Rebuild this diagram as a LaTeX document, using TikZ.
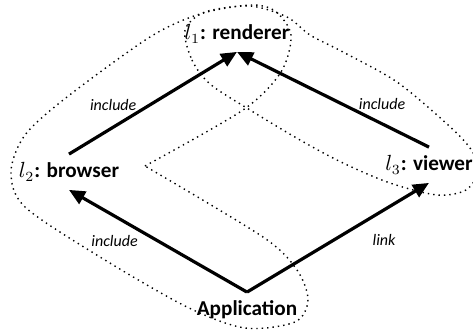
\documentclass[tikz,border=0pt]{standalone}
\usepackage{fontspec}
\setmainfont{Carlito}
\usetikzlibrary{arrows.meta}

\begin{document}
\begin{tikzpicture}[x=0.5pt,y=-0.5pt,
    comp/.style={font=\fontsize{10.6}{12}\selectfont\bfseries, inner sep=0pt, minimum height=17.5pt},
    rel/.style={line width=1.6pt, -{Triangle[length=8pt,width=7pt]}},
    rlabel/.style={font=\fontsize{8}{9}\selectfont\itshape},
    group/.style={dotted, line width=0.7pt}]
    \useasboundingbox (0,0) rectangle (473,332);

    \node[comp] (R) at (237,34) {$l_1$: renderer};
    \node[comp] (B) at (69,172) {$l_2$: browser};
    \node[comp] (V) at (429,165) {$l_3$: viewer};
    \node[comp] (A) at (247,310) {Application};

    \draw[rel] (B.north) -- node[rlabel, pos=0.48, left=2.5pt] {include} (R.south);
    \draw[rel] (V.north) -- node[rlabel, pos=0.45, right=4pt] {include} (R.south);
    \draw[rel] (A.north) -- node[rlabel, pos=0.5, left=6pt] {include} (B.south);
    \draw[rel] (A.north) -- node[rlabel, pos=0.48, right=15pt] {link} (V.south);

    % l2: browser with what it includes and what includes it
    \draw[group] plot[smooth] coordinates {(145,166) (243,110) (281,72) (291,35) (275,11)
        (250,5) (200,14) (150,37) (67,97) (25,135) (11,172) (25,207) (100,257) (187,307)
        (245,328) (295,322) (308,300) (297,270) (263,237) (145,166)};
    % l1 and l3
    \draw[group] plot[smooth cycle] coordinates {(185,30) (192,60) (210,84) (250,110)
        (300,140) (343,163) (390,183) (437,195) (466,190) (479,170) (470,148) (447,124)
        (397,82) (343,52) (310,35) (287,17) (250,6) (205,12)};
\end{tikzpicture}
\end{document}
